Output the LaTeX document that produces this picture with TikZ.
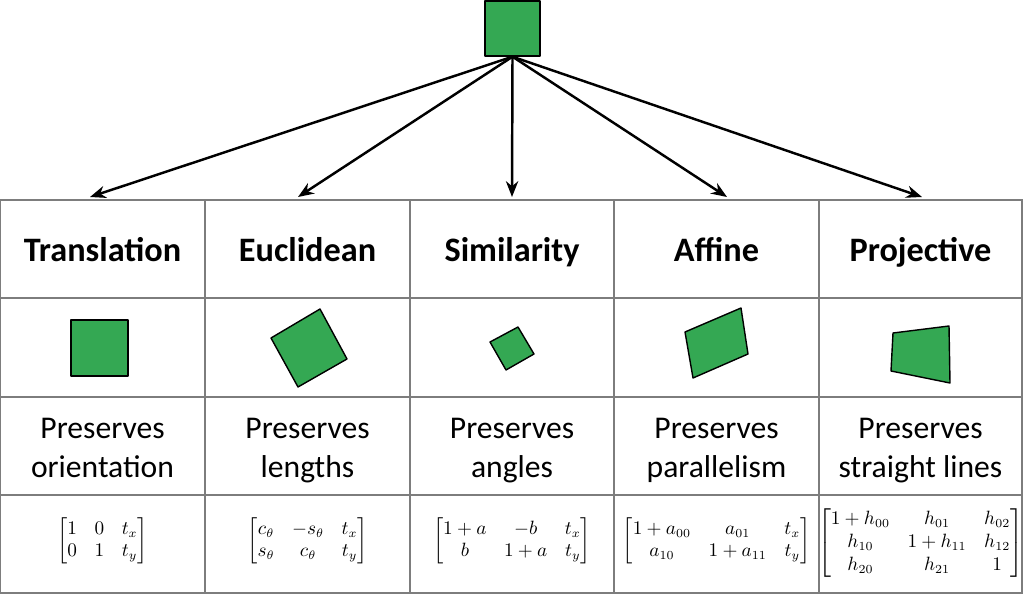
\documentclass[tikz,border=0pt]{standalone}
\usepackage{fontspec}
\setmainfont{Carlito}
\usepackage{amsmath}
\usetikzlibrary{arrows.meta}
\definecolor{shapegreen}{RGB}{52,168,83}
\definecolor{gridgray}{RGB}{125,125,125}
\tikzset{
  greenshape/.style={fill=shapegreen,draw=black,line width=0.8pt,line join=round},
  heading/.style={font=\fontsize{19.5}{22}\selectfont\bfseries,anchor=base},
  prop/.style={font=\fontsize{18}{22}\selectfont,align=center,anchor=base},
  mat/.style={font=\fontsize{10.5}{13}\selectfont},
  link/.style={-{Stealth[length=9pt,width=7pt]},line width=1.4pt}
}
\begin{document}
\begin{tikzpicture}[x=0.02cm,y=-0.02cm]
\useasboundingbox (0,0) rectangle (1024,595);
% table
\draw[gridgray,line width=0.9pt] (0,200) rectangle (1022,593);
\foreach \y in {298,397,495} \draw[gridgray,line width=0.9pt] (0,\y) -- (1022,\y);
\foreach \x in {205,410,614,819} \draw[gridgray,line width=0.9pt] (\x,200) -- (\x,593);
% source square
\node[greenshape,minimum size=1.1cm,inner sep=0pt] (src) at (512.5,28.5) {};
% arrow ends
\coordinate (e1) at (90,197);
\coordinate (e2) at (298,197);
\coordinate (e3) at (512,197);
\coordinate (e4) at (727,197);
\coordinate (e5) at (922,197);
\foreach \i in {1,...,5} \draw[link] (src.south) -- (e\i);
% headings
\node[heading] (h1) at (102.5,261.5) {Translation};
\node[heading] (h2) at (307.5,261.5) {Euclidean};
\node[heading] (h3) at (512,261.5) {Similarity};
\node[heading] (h4) at (716.5,261.5) {Affine};
\node[heading] (h5) at (920.5,261.5) {Projective};
% shapes
\draw[greenshape] (71,320) rectangle (128,376);
\draw[greenshape] (320,309) -- (271,338) -- (298,387) -- (347,359) -- cycle;
\draw[greenshape] (518,327) -- (490,342) -- (506,370) -- (534,354) -- cycle;
\draw[greenshape] (741,308) -- (685,332) -- (693,378) -- (748,354) -- cycle;
\draw[greenshape] (893,333) -- (949,326) -- (950,383) -- (891,371) -- cycle;
% properties
\node[prop] (p1) at (102.5,477) {Preserves\\orientation};
\node[prop] (p2) at (307.5,477) {Preserves\\lengths};
\node[prop] (p3) at (512,477) {Preserves\\angles};
\node[prop] (p4) at (716.5,477) {Preserves\\parallelism};
\node[prop] (p5) at (920.5,477) {Preserves\\straight lines};
% matrices
\node[mat] (m1) at (102.5,541) {$\begin{bmatrix}1 & 0 & t_x\\ 0 & 1 & t_y\end{bmatrix}$};
\node[mat] (m2) at (307.5,541) {$\begin{bmatrix}c_\theta & -s_\theta & t_x\\ s_\theta & c_\theta & t_y\end{bmatrix}$};
\node[mat] (m3) at (512,541) {$\begin{bmatrix}1+a & -b & t_x\\ b & 1+a & t_y\end{bmatrix}$};
\node[mat] (m4) at (716.5,541) {$\begin{bmatrix}1+a_{00} & a_{01} & t_x\\ a_{10} & 1+a_{11} & t_y\end{bmatrix}$};
\node[mat] (m5) at (920.5,543) {$\begin{bmatrix}1+h_{00} & h_{01} & h_{02}\\ h_{10} & 1+h_{11} & h_{12}\\ h_{20} & h_{21} & 1\end{bmatrix}$};
\end{tikzpicture}
\end{document}
